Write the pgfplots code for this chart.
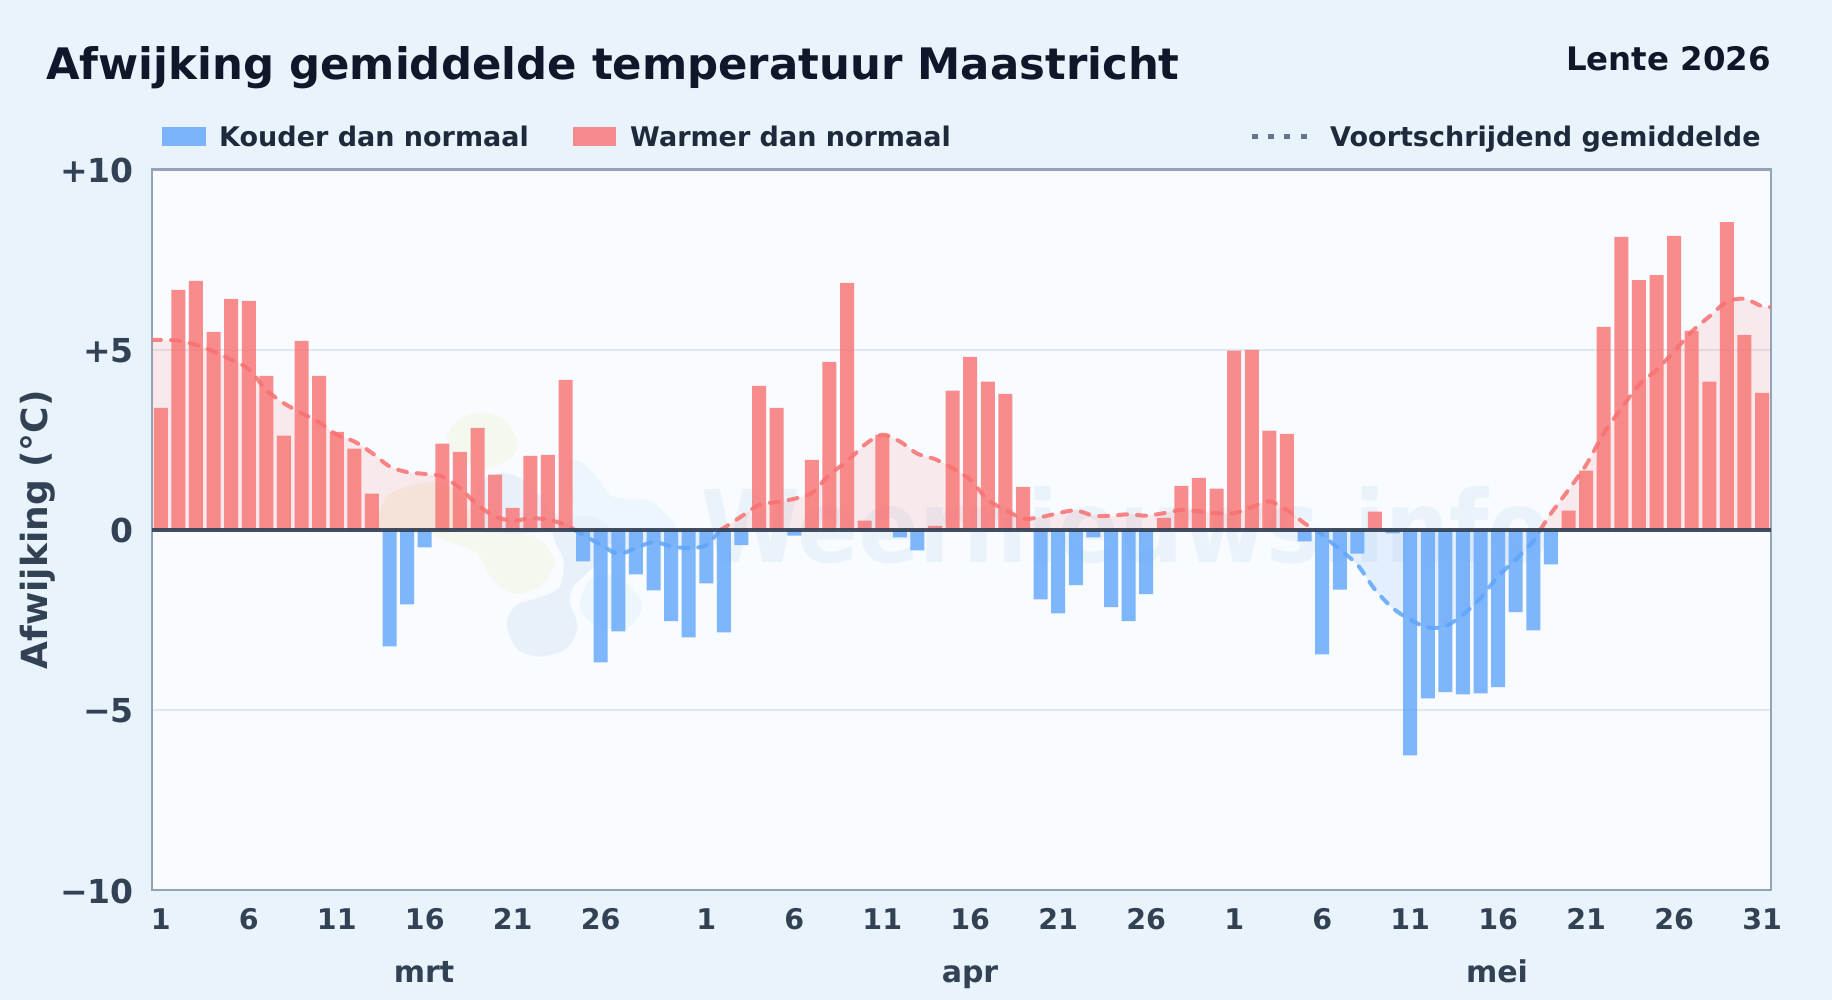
\documentclass[border=0pt]{standalone}
\usepackage{fontspec}
\usepackage{pgfplots}
\pgfplotsset{compat=1.18}
\setmainfont{DejaVu Sans}
\newfontfamily\wmfont{DejaVu Sans Condensed}[BoldFont={DejaVu Sans Condensed Bold}]
\definecolor{pagebg}{HTML}{E9F3FC}
\definecolor{plotbg}{HTML}{F8FBFF}
\definecolor{warm}{HTML}{F87171}
\definecolor{cold}{HTML}{60A5FA}
\definecolor{ink}{HTML}{0F172A}
\definecolor{legendink}{HTML}{1E293B}
\definecolor{tickink}{HTML}{334155}
\definecolor{frame}{HTML}{94A3B8}
\definecolor{gridc}{HTML}{E2E8F0}
\definecolor{wmc}{HTML}{EAF2FA}
\newcommand{\bfpx}[1]{\fontsize{#1}{#1}\selectfont\bfseries}
\begin{document}
\begin{tikzpicture}[x=1pt,y=1pt]
\fill[pagebg] (0,0) rectangle (1832,1000);
\fill[plotbg] (152,110) rectangle (1771,830.5);
% watermark
\begin{scope}[shift={(360,610)},x=0.3333pt,y=-0.3333pt]
\fill[color={rgb,255:red,244;green,248;blue,238}] plot[smooth cycle] coordinates {(265,130)(300,85)(370,68)(440,95)(472,160)(450,205)(380,235)(300,215)(265,170)};
\fill[color={rgb,255:red,245;green,243;blue,232}] plot[smooth cycle] coordinates {(60,365)(100,305)(230,275)(300,320)(320,420)(70,425)};
\fill[color={rgb,255:red,244;green,248;blue,238}] plot[smooth cycle] coordinates {(220,432)(370,425)(520,440)(582,510)(550,580)(470,612)(400,570)(350,490)(280,460)};
\fill[color={rgb,255:red,232;green,241;blue,249}] plot[smooth cycle] coordinates {(350,290)(420,250)(490,270)(560,340)(600,420)(350,420)};
\fill[color={rgb,255:red,236;green,246;blue,253}] plot[smooth cycle] coordinates {(600,240)(650,210)(700,250)(760,320)(860,330)(925,380)(930,420)(640,420)(640,350)};
\fill[color={rgb,255:red,232;green,241;blue,249}] plot[smooth cycle] coordinates {(440,700)(470,645)(540,622)(600,590)(610,510)(580,430)(650,380)(720,390)(760,440)(700,530)(640,590)(630,640)(653,710)(620,775)(540,800)(470,775)};
\fill[color={rgb,255:red,236;green,246;blue,253}] plot[smooth cycle] coordinates {(660,640)(690,570)(760,555)(830,610)(845,660)(800,715)(720,710)(675,680)};
\end{scope}
\node[anchor=base west,inner sep=0pt,text=wmc,font=\wmfont\fontsize{100}{100}\selectfont\bfseries] at (701,437) {Weernieuws.info};
\begin{axis}[
  at={(152pt,110pt)},anchor=south west,
  scale only axis,width=1619pt,height=720.5pt,
  xmin=0.5,xmax=92.5,ymin=-10,ymax=10,
  axis line style={draw=frame,line width=2.6pt},
  axis on top=false,
  xtick={1,6,11,16,21,26,32,37,42,47,52,57,62,67,72,77,82,87,92},
  xticklabels={1,6,11,16,21,26,1,6,11,16,21,26,1,6,11,16,21,26,31},
  ytick={-10,-5,0,5,10},
  yticklabels={−10,−5,0,+5,+10},
  tick style={draw=none},
  xticklabel style={font=\bfpx{28.5},text=tickink,anchor=base,inner sep=0pt,yshift=-40pt},
  yticklabel style={font=\bfpx{33},text=tickink,anchor=east,inner sep=0pt,xshift=-18pt,yshift=-1pt},
  ymajorgrids,
  grid style={draw=gridc,line width=2pt},
  ylabel={Afwijking (°C)},
  every axis y label/.style={at={(axis description cs:-0.0704,0.5)},rotate=90,anchor=center,font=\bfpx{36},text=tickink},
  clip=true,
]
% fills of the running mean
\addplot[smooth,draw=none,fill=warm,fill opacity=0.13] coordinates {
(0.5,5.27)(1,5.27)(2,5.25)(3,5.13)(4,4.95)(5,4.72)(6,4.46)(7,3.88)(8,3.51)(9,3.24)(10,2.98)(11,2.64)(12,2.45)(13,2.13)(14,1.76)(15,1.60)(16,1.55)(17,1.48)(18,1.16)(19,0.69)(20,0.37)(21,0.25)(22,0.32)(23,0.28)(24,0.14)(24.5,0)} \closedcycle;
\addplot[smooth,draw=none,fill=cold,fill opacity=0.13] coordinates {
(24.5,0)(25,-0.14)(26,-0.42)(27,-0.67)(28,-0.51)(29,-0.34)(30,-0.46)(31,-0.51)(32,-0.43)(32.8,0)} \closedcycle;
\addplot[smooth,draw=none,fill=warm,fill opacity=0.13] coordinates {
(32.8,0)(33,0.05)(34,0.37)(35,0.69)(36,0.77)(37,0.86)(38,1.02)(39,1.53)(40,1.90)(41,2.36)(42,2.64)(43,2.45)(44,2.11)(45,1.96)(46,1.71)(47,1.39)(48,0.83)(49,0.55)(50,0.31)(51,0.35)(52,0.46)(53,0.54)(54,0.39)(55,0.39)(56,0.43)(57,0.39)(58,0.46)(59,0.55)(60,0.51)(61,0.46)(62,0.46)(63,0.63)(64,0.79)(65,0.55)(66,0.18)(66.6,0)} \closedcycle;
\addplot[smooth,draw=none,fill=cold,fill opacity=0.13] coordinates {
(66.6,0)(67,-0.14)(68,-0.55)(69,-0.97)(70,-1.66)(71,-2.17)(72,-2.50)(73,-2.71)(74,-2.68)(75,-2.36)(76,-1.90)(77,-1.29)(78,-0.83)(79,-0.32)(79.4,0)} \closedcycle;
\addplot[smooth,draw=none,fill=warm,fill opacity=0.13] coordinates {
(79.4,0)(80,0.45)(81,1.11)(82,1.80)(83,2.68)(84,3.37)(85,4.02)(86,4.44)(87,4.95)(88,5.50)(89,5.92)(90,6.33)(91,6.41)(92,6.20)(92.5,6.18)} \closedcycle;
% bars
\addplot[ybar,bar shift=0pt,bar width=14pt,draw=none,fill=warm,fill opacity=0.8] coordinates {
(1,3.38)(2,6.66)(3,6.91)(4,5.49)(5,6.41)(6,6.35)(7,4.27)(8,2.61)(9,5.24)(10,4.27)(11,2.72)(12,2.25)(13,1.00)(17,2.39)(18,2.16)(19,2.83)(20,1.53)(21,0.61)(22,2.05)(23,2.08)(24,4.16)(35,3.99)(36,3.38)(38,1.94)(39,4.66)(40,6.85)(41,0.25)(42,2.64)(45,0.11)(46,3.86)(47,4.80)(48,4.11)(49,3.77)(50,1.19)(58,0.33)(59,1.22)(60,1.44)(61,1.14)(62,4.97)(63,4.99)(64,2.75)(65,2.66)(70,0.50)(81,0.53)(82,1.64)(83,5.63)(84,8.13)(85,6.93)(86,7.07)(87,8.16)(88,5.52)(89,4.11)(90,8.54)(91,5.41)(92,3.80)};
\addplot[ybar,bar shift=0pt,bar width=14pt,draw=none,fill=cold,fill opacity=0.8] coordinates {
(14,-3.24)(15,-2.07)(16,-0.49)(25,-0.88)(26,-3.68)(27,-2.82)(28,-1.24)(29,-1.68)(30,-2.54)(31,-2.99)(32,-1.49)(33,-2.85)(34,-0.43)(37,-0.16)(43,-0.21)(44,-0.57)(51,-1.93)(52,-2.32)(53,-1.54)(54,-0.21)(55,-2.15)(56,-2.54)(57,-1.79)(66,-0.32)(67,-3.46)(68,-1.66)(69,-0.66)(71,-0.10)(72,-6.26)(73,-4.68)(74,-4.51)(75,-4.57)(76,-4.54)(77,-4.37)(78,-2.29)(79,-2.79)(80,-0.96)};
% running mean
\pgfplotsset{meanline/.style={smooth,line width=4pt,line cap=round,dash pattern=on 9pt off 10pt,opacity=0.85}}
\addplot[meanline,draw=warm] coordinates {
(0.5,5.27)(1,5.27)(2,5.25)(3,5.13)(4,4.95)(5,4.72)(6,4.46)(7,3.88)(8,3.51)(9,3.24)(10,2.98)(11,2.64)(12,2.45)(13,2.13)(14,1.76)(15,1.60)(16,1.55)(17,1.48)(18,1.16)(19,0.69)(20,0.37)(21,0.25)(22,0.32)(23,0.28)(24,0.14)(24.5,0)};
\addplot[meanline,draw=cold] coordinates {
(24.5,0)(25,-0.14)(26,-0.42)(27,-0.67)(28,-0.51)(29,-0.34)(30,-0.46)(31,-0.51)(32,-0.43)(32.8,0)};
\addplot[meanline,draw=warm] coordinates {
(32.8,0)(33,0.05)(34,0.37)(35,0.69)(36,0.77)(37,0.86)(38,1.02)(39,1.53)(40,1.90)(41,2.36)(42,2.64)(43,2.45)(44,2.11)(45,1.96)(46,1.71)(47,1.39)(48,0.83)(49,0.55)(50,0.31)(51,0.35)(52,0.46)(53,0.54)(54,0.39)(55,0.39)(56,0.43)(57,0.39)(58,0.46)(59,0.55)(60,0.51)(61,0.46)(62,0.46)(63,0.63)(64,0.79)(65,0.55)(66,0.18)(66.6,0)};
\addplot[meanline,draw=cold] coordinates {
(66.6,0)(67,-0.14)(68,-0.55)(69,-0.97)(70,-1.66)(71,-2.17)(72,-2.50)(73,-2.71)(74,-2.68)(75,-2.36)(76,-1.90)(77,-1.29)(78,-0.83)(79,-0.32)(79.4,0)};
\addplot[meanline,draw=warm] coordinates {
(79.4,0)(80,0.45)(81,1.11)(82,1.80)(83,2.68)(84,3.37)(85,4.02)(86,4.44)(87,4.95)(88,5.50)(89,5.92)(90,6.33)(91,6.41)(92,6.20)(92.5,6.18)};
% zero line
\addplot[draw=tickink,line width=4pt,opacity=0.92] coordinates {(0.5,0)(92.5,0)};
\end{axis}
% title and subtitle
\node[anchor=base west,inner sep=0pt,text=ink,font=\bfpx{43.4}] at (46,920) {Afwijking gemiddelde temperatuur Maastricht};
\node[anchor=base east,inner sep=0pt,text=ink,font=\bfpx{32.4}] at (1771,929.5) {Lente 2026};
% legend
\fill[cold,opacity=0.8] (162,854) rectangle (206,873);
\node[anchor=base west,inner sep=0pt,text=legendink,font=\bfpx{27}] at (219,853) {Kouder dan normaal};
\fill[warm,opacity=0.8] (573,854) rectangle (616,873);
\node[anchor=base west,inner sep=0pt,text=legendink,font=\bfpx{27}] at (630,853) {Warmer dan normaal};
\draw[color={rgb,255:red,100;green,116;blue,139},line width=4.6pt,dash pattern=on 6pt off 10.4pt] (1251.6,863.3) -- (1307,863.3);
\node[anchor=base west,inner sep=0pt,text=legendink,font=\bfpx{27}] at (1330,853) {Voortschrijdend gemiddelde};
% months
\node[anchor=base,inner sep=0pt,text=tickink,font=\bfpx{30}] at (424,17.3) {mrt};
\node[anchor=base,inner sep=0pt,text=tickink,font=\bfpx{30}] at (970,17.3) {apr};
\node[anchor=base,inner sep=0pt,text=tickink,font=\bfpx{30}] at (1497,17.3) {mei};
\end{tikzpicture}
\end{document}
